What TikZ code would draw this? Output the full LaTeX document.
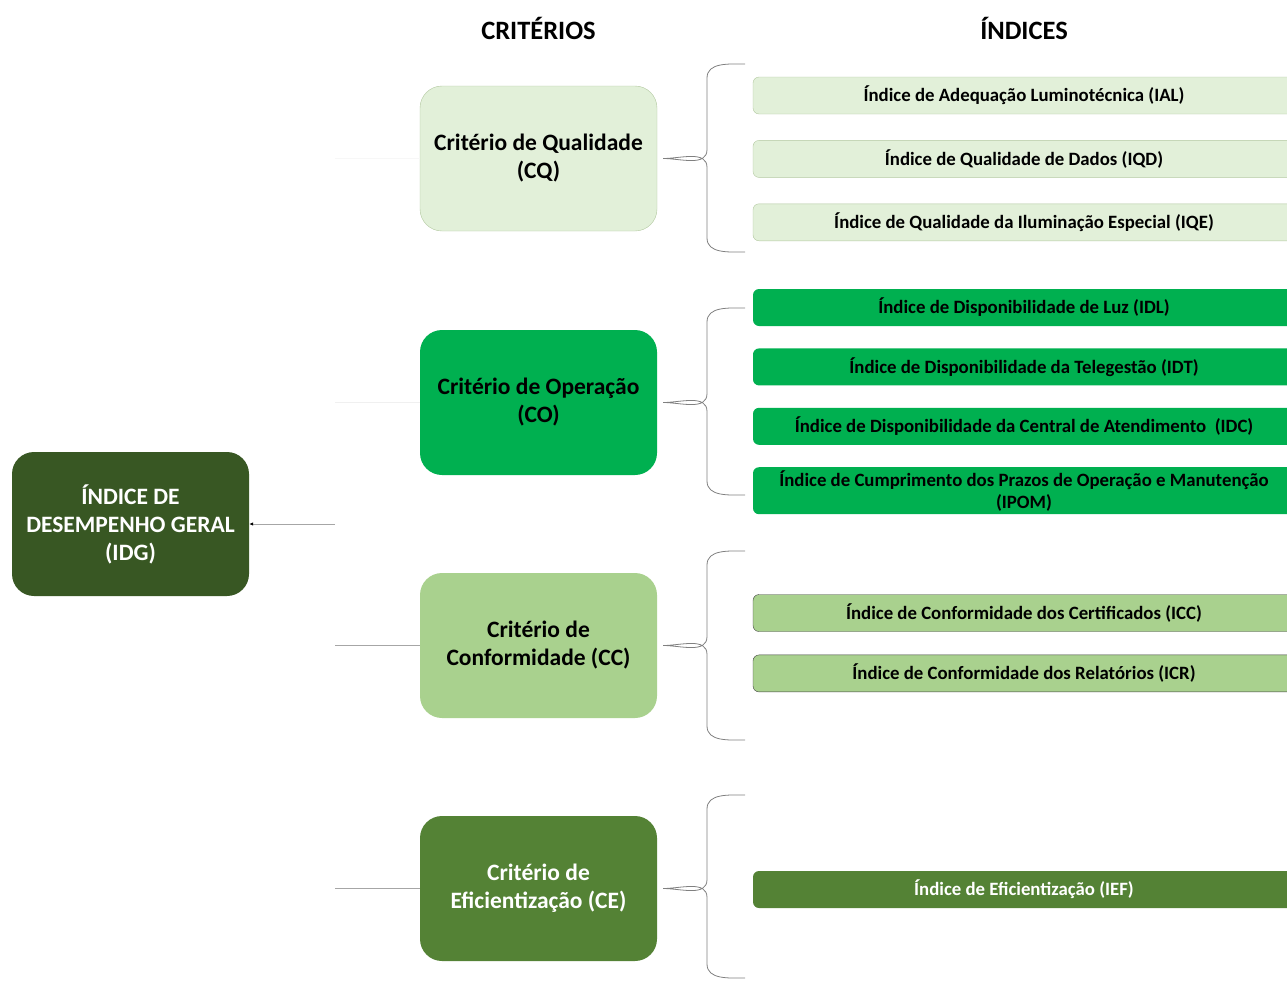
\documentclass[tikz,border=0pt]{standalone}
\usepackage{fontspec}
\setmainfont{Carlito}
\usepackage{xcolor}
\usepackage{tikz}
\usetikzlibrary{arrows.meta,positioning,calc}
\definecolor{idggreen}{RGB}{56,87,35}
\definecolor{cqfill}{RGB}{226,240,217}
\definecolor{cqline}{RGB}{178,200,160}
\definecolor{cogreen}{RGB}{0,176,80}
\definecolor{ccfill}{RGB}{169,209,142}
\definecolor{cegreen}{RGB}{84,130,53}
\tikzset{
    geral/.style={rectangle, rounded corners=22pt, fill=idggreen, text=white, minimum width=237pt, minimum height=144pt, inner sep=2pt, align=center, font=\bfseries\fontsize{23.5}{28}\selectfont},
    criterio/.style={rectangle, rounded corners=22pt, minimum width=237pt, minimum height=145pt, inner sep=2pt, align=center, font=\bfseries\fontsize{23.5}{28}\selectfont},
    indice/.style={rectangle, rounded corners=6pt, minimum width=542pt, minimum height=37pt, inner sep=1pt, align=center, font=\bfseries\fontsize{18.8}{22}\selectfont},
    titulo/.style={font=\bfseries\fontsize{26.5}{30}\selectfont},
    chave/.style={draw=gray, line width=0.8pt},
    ligacao/.style={draw=gray!70, line width=0.8pt}
}
% brace from a criterion to its group of indices
\newcommand{\chave}[3]{%
    \draw[chave] (#2) to[out=180,in=90] ($(spine |- #2)+(0,-14)$)
        -- ($(spine |- #1.east)+(0,9)$) to[out=-90,in=0] ([xshift=6pt]#1.east)
        to[out=0,in=90] ($(spine |- #1.east)+(0,-9)$)
        -- ($(spine |- #3)+(0,14)$) to[out=-90,in=180] (#3);}

\begin{document}
\begin{tikzpicture}[x=1pt,y=1pt]
    \useasboundingbox (0,0) rectangle (1287,-980);

    % Titles
    \node [titulo] (tcrit) at (538.5,-28) {CRITÉRIOS};
    \node [titulo] (tind) at (1024,-28) {ÍNDICES};

    % General index
    \node [geral] (idg) at (130.5,-524) {ÍNDICE DE\\DESEMPENHO GERAL\\(IDG)};

    % Criteria
    \node [criterio, fill=cqfill, draw=cqline] (cq) at (538.5,-158.5) {Critério de Qualidade\\(CQ)};
    \node [criterio, fill=cogreen] (co) at (538.5,-402.5) {Critério de Operação\\(CO)};
    \node [criterio, fill=ccfill] (cc) at (538.5,-645.5) {Critério de\\Conformidade (CC)};
    \node [criterio, fill=cegreen, text=white] (ce) at (538.5,-888.5) {Critério de\\Eficientização (CE)};

    % Indices of quality
    \node [indice, fill=cqfill, draw=cqline] (ial) at (1024,-95.5) {Índice de Adequação Luminotécnica (IAL)};
    \node [indice, fill=cqfill, draw=cqline, below=26pt of ial] (iqd) {Índice de Qualidade de Dados (IQD)};
    \node [indice, fill=cqfill, draw=cqline, below=26pt of iqd] (iqe) {Índice de Qualidade da Iluminação Especial (IQE)};

    % Indices of operation
    \node [indice, fill=cogreen] (idl) at (1024,-307.5) {Índice de Disponibilidade de Luz (IDL)};
    \node [indice, fill=cogreen, below=22pt of idl] (idt) {Índice de Disponibilidade da Telegestão (IDT)};
    \node [indice, fill=cogreen, below=22pt of idt] (idc) {Índice de Disponibilidade da Central de Atendimento~~(IDC)};
    \node [indice, fill=cogreen, minimum height=47pt, below=22pt of idc] (ipom) {Índice de Cumprimento dos Prazos de Operação e Manutenção\\(IPOM)};

    % Indices of conformity
    \node [indice, fill=ccfill, draw=black!75] (icc) at (1024,-613) {Índice de Conformidade dos Certificados (ICC)};
    \node [indice, fill=ccfill, draw=black!75, below=23pt of icc] (icr) {Índice de Conformidade dos Relatórios (ICR)};

    % Index of efficiency
    \node [indice, fill=cegreen, text=white] (ief) at (1024,-889.5) {Índice de Eficientização (IEF)};

    % Links to the general index
    \coordinate (hub) at (335,-524);
    \path [ligacao, -{Latex[black,length=4pt,width=3.5pt]}] (hub) -- (idg.east);
    \path [ligacao, draw=gray!6] (hub |- cq.west) -- (cq.west);
    \path [ligacao, draw=gray!12] (hub |- co.west) -- (co.west);
    \path [ligacao] (hub |- cc.west) -- (cc.west);
    \path [ligacao] (hub |- ce.west) -- (ce.west);

    % Braces
    \coordinate (spine) at (707,0);
    \coordinate (cqtop) at (745,-64);
    \coordinate (cqbot) at (745,-252);
    \coordinate (cotop) at (745,-308);
    \coordinate (cobot) at (745,-495);
    \coordinate (cctop) at (745,-551);
    \coordinate (ccbot) at (745,-740);
    \coordinate (cetop) at (745,-795);
    \coordinate (cebot) at (745,-978);
    \chave{cq}{cqtop}{cqbot}
    \chave{co}{cotop}{cobot}
    \chave{cc}{cctop}{ccbot}
    \chave{ce}{cetop}{cebot}
\end{tikzpicture}
\end{document}
